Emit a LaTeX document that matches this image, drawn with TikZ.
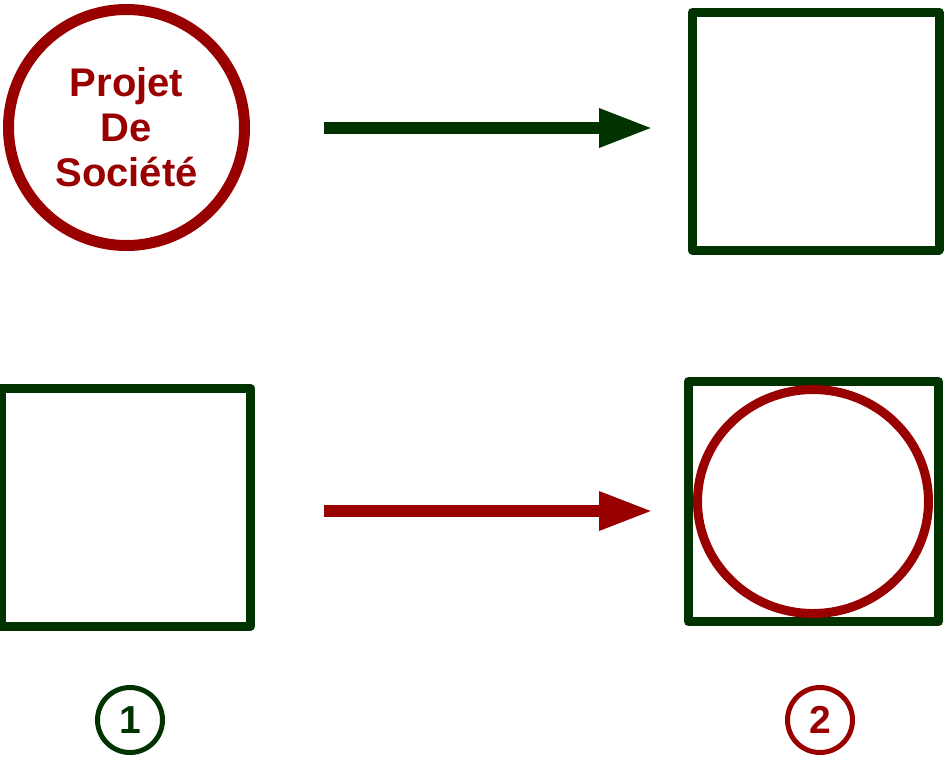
\documentclass[tikz,border=0pt]{standalone}
\usepackage{fontspec}
\setmainfont{Liberation Sans}
\usetikzlibrary{arrows.meta}
\definecolor{dred}{HTML}{990000}
\definecolor{dgreen}{HTML}{003300}
\begin{document}
\begin{tikzpicture}[x=1pt,y=-1pt,
  sqbox/.style={draw=dgreen,line width=9pt,rectangle,inner sep=0pt,line join=round},
  bigarrow/.style={line width=12pt,-{Triangle[length=54pt,width=36pt]}},
  numcirc/.style={circle,line width=5pt,minimum size=65pt,inner sep=0pt,font=\fontsize{39}{40}\selectfont\bfseries}
]
\path[use as bounding box] (0,0) rectangle (944,756);
% top left circle
\node[circle,draw=dred,line width=11pt,minimum size=236pt,inner sep=0pt,
      text=dred,align=center,font=\fontsize{40}{45}\selectfont\bfseries] (proj) at (126.5,127.5) {Projet\\De\\Société};
% squares
\node[sqbox,minimum width=247pt,minimum height=238pt] (sqtr) at (815.5,131) {};
\node[sqbox,minimum width=249.5pt,minimum height=238pt] (sqbl) at (125.75,507) {};
\node[sqbox,minimum width=250pt,minimum height=240pt] (sqbr) at (813.5,501.5) {};
% ellipse in bottom right square
\draw[dred,line width=9pt] (sqbr.center) ++(-0.5,0) ellipse [x radius=115.5, y radius=112];
% arrows
\coordinate (a1s) at (324,128);
\coordinate (a1e) at (653,128);
\coordinate (a2s) at (324,511);
\coordinate (a2e) at (653,511);
\draw[bigarrow,dgreen] (a1s) -- (a1e);
\draw[bigarrow,dred] (a2s) -- (a2e);
% numbers
\node[numcirc,draw=dgreen,text=dgreen] (n1) at (130,720) {1};
\node[numcirc,draw=dred,text=dred] (n2) at (820,720) {2};
\end{tikzpicture}
\end{document}
